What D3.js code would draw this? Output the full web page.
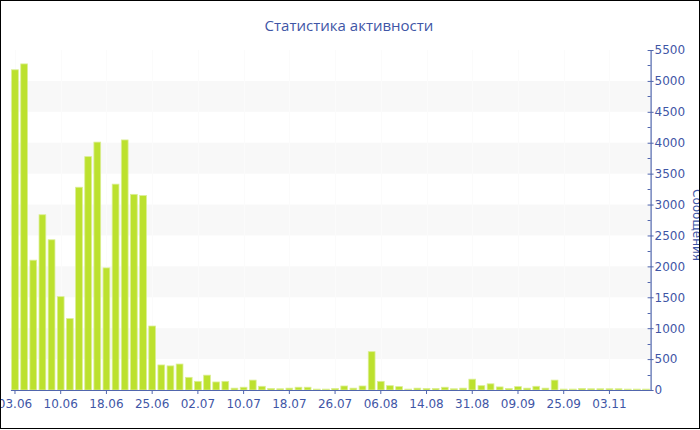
<!DOCTYPE html>
<html>
<head>
<meta charset="utf-8">
<script src="https://cdn.jsdelivr.net/npm/d3@7"></script>
<style>
  html, body { margin: 0; padding: 0; background: #fff; }
  svg { display: block; }
</style>
</head>
<body>
<svg id="chart" width="700" height="430"></svg>
<script>
const dates = [
  "03.06","04.06","05.06","07.06","08.06","10.06","11.06","13.06","14.06","16.06",
  "18.06","19.06","20.06","21.06","24.06","25.06","26.06","27.06","29.06","30.06",
  "02.07","03.07","05.07","06.07","08.07","10.07","11.07","13.07","14.07","16.07",
  "18.07","19.07","21.07","23.07","24.07","26.07","28.07","30.07","01.08","04.08",
  "06.08","07.08","09.08","10.08","12.08","14.08","17.08","20.08","24.08","27.08",
  "31.08","01.09","03.09","05.09","07.09","09.09","11.09","15.09","18.09","22.09",
  "25.09","28.09","05.10","12.10","22.10","03.11","10.11","17.11","24.11","01.12"
];
const messages = [
  5180,5275,2100,2835,2430,1510,1155,3280,3775,4010,
  1975,3330,4045,3165,3145,1035,405,390,420,205,
  140,240,130,140,30,45,160,60,25,20,
  30,45,45,15,15,25,65,30,65,620,
  140,70,55,15,30,25,25,45,20,30,
  175,70,100,50,25,55,30,60,30,160,
  15,15,25,20,20,20,20,15,15,15
];
const yTicks = [0,500,1000,1500,2000,2500,3000,3500,4000,4500,5000,5500];
const titleText = "Статистика активности";
const yAxisTitle = "Сообщения";

(function () {
const svg = d3.select("#chart");
const pLeft = 10.4, pRight = 650.6, pTop = 50, pBottom = 390;
const blue = "#3f56a6";
const axisColor = "#5166ad";

const x = d3.scaleBand().domain(dates).range([pLeft, pRight]).paddingInner(0.26).paddingOuter(0.13);
const y = d3.scaleLinear().domain([0, 5500]).range([pBottom, pTop]);

// alternating bands
const bands = [];
for (let i = 0; i < yTicks.length - 1; i++) if (i % 2 === 1) bands.push([yTicks[i], yTicks[i+1]]);
svg.append("g").selectAll("rect").data(bands).join("rect")
  .attr("x", pLeft).attr("width", pRight - pLeft)
  .attr("y", d => y(d[1])).attr("height", d => y(d[0]) - y(d[1]))
  .attr("fill", "#f8f8f8");

// very faint vertical grid lines at labelled ticks
const labelled = dates.filter((d, i) => i % 5 === 0);
svg.append("g").selectAll("line").data(labelled).join("line")
  .attr("x1", d => Math.round(x(d) + x.bandwidth()/2) + 0.5)
  .attr("x2", d => Math.round(x(d) + x.bandwidth()/2) + 0.5)
  .attr("y1", pTop).attr("y2", pBottom)
  .attr("stroke", "#fbfbfb").attr("stroke-width", 1);

// bars
svg.append("g").selectAll("rect").data(messages).join("rect")
  .attr("x", (d, i) => x(dates[i]))
  .attr("width", x.bandwidth())
  .attr("y", d => y(d))
  .attr("height", d => pBottom - y(d))
  .attr("fill", "#bce12e")
  .attr("stroke", "#dbee94")
  .attr("stroke-width", 0.8);

// x axis
const xAxis = d3.axisBottom(x).tickValues(labelled).tickSize(4).tickSizeOuter(0);
const gx = svg.append("g").attr("transform", `translate(0,${pBottom})`).call(xAxis);
gx.select(".domain").attr("stroke", axisColor).attr("stroke-width", 1.2);
gx.selectAll(".tick line").attr("stroke", axisColor);
gx.selectAll(".tick text").attr("fill", blue).attr("font-family", "DejaVu Sans, Verdana, sans-serif")
  .attr("font-size", 12).attr("dy", "0.95em");

// y axis minor ticks
const minor = d3.range(250, 5500, 500);
svg.append("g").selectAll("line").data(minor).join("line")
  .attr("x1", pRight - 3).attr("x2", pRight)
  .attr("y1", d => Math.round(y(d)) + 0.5).attr("y2", d => Math.round(y(d)) + 0.5)
  .attr("stroke", axisColor);

// y axis
const yAxis = d3.axisRight(y).tickValues(yTicks).tickFormat(d3.format("d"))
  .tickSize(3).tickSizeOuter(0).tickPadding(1);
const gy = svg.append("g").attr("transform", `translate(${pRight},0)`).call(yAxis);
gy.select(".domain").attr("stroke", axisColor).attr("stroke-width", 1.2);
gy.selectAll(".tick line").attr("stroke", axisColor).attr("x1", -3);
gy.selectAll(".tick text").attr("fill", blue).attr("font-family", "DejaVu Sans, Verdana, sans-serif")
  .attr("font-size", 12);

// y axis title
svg.append("text")
  .attr("transform", `translate(693,225) rotate(90)`)
  .attr("text-anchor", "middle")
  .attr("fill", blue)
  .attr("font-family", "DejaVu Sans, Verdana, sans-serif")
  .attr("font-size", 12)
  .text(yAxisTitle);

// title
svg.append("text")
  .attr("x", 349).attr("y", 31)
  .attr("text-anchor", "middle")
  .attr("fill", blue)
  .attr("font-family", "Open Sans, Noto Sans, sans-serif")
  .attr("font-size", 15)
  .text(titleText);

// outer border
svg.append("rect").attr("x", 0.5).attr("y", 0.5).attr("width", 699).attr("height", 428)
  .attr("fill", "none").attr("stroke", "#000").attr("stroke-width", 1);
})();
</script>
</body>
</html>
